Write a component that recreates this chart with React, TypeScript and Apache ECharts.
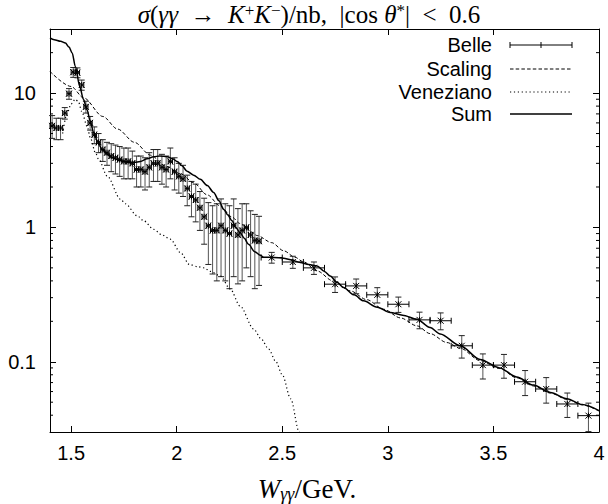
import React, { useEffect, useRef } from "react";
import * as echarts from "echarts";

// ---------- data ----------
const belleW = [
  1.41, 1.43, 1.45, 1.47, 1.49, 1.51, 1.53, 1.55, 1.57, 1.59,
  1.61, 1.63, 1.65, 1.67, 1.69, 1.71, 1.73, 1.75, 1.77, 1.79,
  1.81, 1.83, 1.85, 1.87, 1.89, 1.91, 1.93, 1.95, 1.97, 1.99,
  2.01, 2.03, 2.05, 2.07, 2.09, 2.11, 2.13, 2.15, 2.17, 2.19,
  2.21, 2.23, 2.25, 2.27, 2.29, 2.31, 2.33, 2.35, 2.37, 2.39,
  2.45, 2.55, 2.65, 2.75, 2.85, 2.95, 3.05, 3.15, 3.25, 3.35,
  3.45, 3.55, 3.65, 3.75, 3.85, 3.95,
];
const belleSigma = [
  5.7, 5.5, 5.5, 7.1, 9.9, 14.3, 14.2, 11.5, 7.9, 6.0,
  4.9, 4.3, 3.8, 3.6, 3.4, 3.3, 3.2, 3.1, 3.1, 3.0,
  2.7, 2.7, 2.6, 2.8, 3.0, 3.0, 2.8, 2.7, 3.1, 2.6,
  2.4, 2.3, 1.95, 1.7, 1.6, 1.4, 1.2, 1.03, 0.95, 0.95,
  1.03, 0.95, 0.9, 1.03, 0.88, 0.95, 1.0, 0.88, 0.8, 0.79,
  0.597, 0.553, 0.5, 0.378, 0.367, 0.315, 0.268, 0.205, 0.202, 0.1315,
  0.0944, 0.0944, 0.071, 0.0627, 0.0485, 0.0397,
];
const belleErr = [
  1.1, 1.0, 1.0, 0.7, 0.9, 1.2, 1.2, 1.0, 0.8, 0.7,
  0.7, 0.7, 0.7, 0.7, 0.8, 0.8, 0.8, 0.8, 0.8, 0.7,
  0.7, 0.7, 0.7, 0.8, 0.8, 0.8, 0.7, 0.7, 0.8, 0.7,
  0.6, 0.6, 0.5, 0.5, 0.5, 0.45, 0.45, 0.5, 0.5, 0.55,
  0.6, 0.55, 0.55, 0.6, 0.5, 0.55, 0.5, 0.45, 0.45, 0.42,
  0.055, 0.057, 0.053, 0.05, 0.046, 0.041, 0.035, 0.029, 0.029, 0.025,
  0.02, 0.019, 0.015, 0.0135, 0.01, 0.0095,
];
const belleHalfBin = [
  0.01, 0.01, 0.01, 0.01, 0.01, 0.01, 0.01, 0.01, 0.01, 0.01,
  0.01, 0.01, 0.01, 0.01, 0.01, 0.01, 0.01, 0.01, 0.01, 0.01,
  0.01, 0.01, 0.01, 0.01, 0.01, 0.01, 0.01, 0.01, 0.01, 0.01,
  0.01, 0.01, 0.01, 0.01, 0.01, 0.01, 0.01, 0.01, 0.01, 0.01,
  0.01, 0.01, 0.01, 0.01, 0.01, 0.01, 0.01, 0.01, 0.01, 0.01,
  0.05, 0.05, 0.05, 0.05, 0.05, 0.05, 0.05, 0.05, 0.05, 0.05,
  0.05, 0.05, 0.05, 0.05, 0.05, 0.05,
];

const scalingW = [
  1.4, 1.5, 1.56, 1.65, 1.72, 1.8, 1.876, 1.95, 2.02, 2.08, 2.144, 2.207,
  2.26, 2.3, 2.349, 2.381, 2.45, 2.507, 2.56, 2.6, 2.665, 2.74, 2.822, 2.9,
  2.98, 3.06, 3.138, 3.2, 3.28, 3.343, 3.437, 3.53, 3.61, 3.69, 3.77, 3.848,
  3.92, 4.0,
];
const scalingSigma = [
  14.5, 11.2, 9.2, 6.7, 5.4, 4.3, 3.45, 2.85, 2.5, 2.15, 1.75, 1.44,
  1.2, 1.07, 0.93, 0.87, 0.77, 0.67, 0.6, 0.555, 0.474, 0.4, 0.337, 0.29,
  0.246, 0.212, 0.185, 0.162, 0.139, 0.126, 0.102, 0.089, 0.076, 0.066, 0.0585, 0.0525,
  0.0478, 0.043,
];

const venezianoW = [
  1.46, 1.48, 1.5, 1.52, 1.535, 1.55, 1.576, 1.592, 1.615, 1.631, 1.671,
  1.734, 1.757, 1.813, 1.844, 1.891, 1.93, 1.97, 2.018, 2.06, 2.1, 2.13,
  2.16, 2.207, 2.254, 2.3, 2.365, 2.4, 2.436, 2.47, 2.5, 2.54, 2.58, 2.6,
];
const venezianoSigma = [
  5.0, 7.0, 8.3, 9.0, 8.6, 7.3, 5.66, 4.6, 3.6, 3.2, 2.41,
  1.62, 1.5, 1.22, 1.12, 0.968, 0.88, 0.817, 0.65, 0.53, 0.51, 0.5,
  0.47, 0.435, 0.347, 0.26, 0.175, 0.148, 0.124, 0.1, 0.08, 0.053, 0.03, 0.025,
];

const sumW = [
  1.4, 1.42, 1.45, 1.473, 1.49, 1.505, 1.52, 1.541, 1.558, 1.576, 1.59,
  1.607, 1.625, 1.647, 1.67, 1.694, 1.73, 1.765, 1.8, 1.828, 1.86, 1.891,
  1.92, 1.955, 1.98, 2.002, 2.025, 2.049, 2.08, 2.112, 2.145, 2.175, 2.2,
  2.223, 2.242, 2.262, 2.28, 2.3, 2.32, 2.34, 2.37, 2.396, 2.412, 2.46,
  2.507, 2.54, 2.585, 2.625, 2.665, 2.7, 2.727, 2.76, 2.79, 2.84, 2.885,
  2.95, 3.011, 3.07, 3.138, 3.2, 3.248, 3.343, 3.437, 3.53, 3.61, 3.69,
  3.77, 3.848, 3.92, 4.0,
];
const sumSigma = [
  25.7, 25.0, 24.3, 23.6, 22.0, 19.9, 15.8, 11.2, 9.0, 7.5, 6.2,
  5.06, 4.4, 3.8, 3.5, 3.3, 3.15, 3.06, 3.05, 3.1, 3.25, 3.36,
  3.4, 3.36, 3.25, 3.1, 2.88, 2.62, 2.45, 2.28, 2.05, 1.82, 1.58,
  1.36, 1.24, 1.12, 1.0, 0.915, 0.83, 0.748, 0.66, 0.62, 0.6, 0.598,
  0.59, 0.575, 0.548, 0.53, 0.516, 0.47, 0.435, 0.39, 0.357, 0.315, 0.284,
  0.255, 0.233, 0.222, 0.207, 0.18, 0.161, 0.1315, 0.104, 0.09, 0.077, 0.067,
  0.059, 0.053, 0.048, 0.0433,
];

const yMinorTicks = [
  0.04, 0.05, 0.06, 0.07, 0.08, 0.09,
  0.2, 0.3, 0.4, 0.5, 0.6, 0.7, 0.8, 0.9,
  2, 3, 4, 5, 6, 7, 8, 9, 20,
];
const legendLabels = ["Belle", "Scaling", "Veneziano", "Sum"];

const X_MIN = 1.4;
const X_MAX = 4;
const Y_MIN = 0.03;
const Y_MAX = 30;

const SANS = "Liberation Sans";
const SERIF = "Liberation Serif";

function zip(xs: number[], ys: number[]) {
  return xs.map((x, i) => [x, ys[i]]);
}

export default function App() {
  const ref = useRef<HTMLDivElement>(null);

  useEffect(() => {
    if (!ref.current) return;
    const chart = echarts.init(ref.current, undefined, { renderer: "svg" });

    const line = (x1: number, y1: number, x2: number, y2: number, stroke = "#000") => ({
      type: "line",
      shape: { x1, y1, x2, y2 },
      style: { stroke, lineWidth: 1 },
    });

    const belleData = belleW.map((w, i) => [w, belleSigma[i], belleHalfBin[i], belleErr[i]]);

    const axisLineStyle = { color: "#000", width: 1 };

    const legendRowsY = [45, 69, 92, 114];
    const lx1 = 510;
    const lx2 = 572;
    const legendGraphics: any[] = [];
    legendLabels.forEach((lab, i) => {
      legendGraphics.push({
        type: "text",
        x: 492,
        y: legendRowsY[i],
        style: {
          text: lab,
          fontFamily: SANS,
          fontSize: 20,
          fill: "#000",
          align: "right",
          verticalAlign: "middle",
        },
      });
    });
    const by = legendRowsY[0];
    legendGraphics.push(line(lx1, by, lx2, by));
    legendGraphics.push(line(lx1, by - 3, lx1, by + 3));
    legendGraphics.push(line(lx2, by - 3, lx2, by + 3));
    legendGraphics.push(line((lx1 + lx2) / 2, by - 3, (lx1 + lx2) / 2, by + 3));
    legendGraphics.push({
      type: "line",
      shape: { x1: lx1, y1: legendRowsY[1], x2: lx2, y2: legendRowsY[1] },
      style: { stroke: "#000", lineWidth: 1, lineDash: [3.5, 2.2] },
    });
    legendGraphics.push({
      type: "line",
      shape: { x1: lx1, y1: legendRowsY[2], x2: lx2, y2: legendRowsY[2] },
      style: { stroke: "#000", lineWidth: 1.2, lineDash: [1.2, 2.7] },
    });
    legendGraphics.push({
      type: "line",
      shape: { x1: lx1, y1: legendRowsY[3], x2: lx2, y2: legendRowsY[3] },
      style: { stroke: "#000", lineWidth: 1.5 },
    });

    const titleRich = {
      n: { fontFamily: SERIF, fontSize: 25, fill: "#000", lineHeight: 24 },
      i: { fontFamily: SERIF, fontSize: 25, fontStyle: "italic", fill: "#000", lineHeight: 24 },
      sup: { fontFamily: SERIF, fontSize: 17, fill: "#000", lineHeight: 16, verticalAlign: "top" },
    };
    const nameRich = {
      n: { fontFamily: SERIF, fontSize: 27, fill: "#000", lineHeight: 28 },
      i: { fontFamily: SERIF, fontSize: 27, fontStyle: "italic", fill: "#000", lineHeight: 28 },
      sub: { fontFamily: SERIF, fontSize: 18, fontStyle: "italic", fill: "#000", lineHeight: 16, verticalAlign: "bottom" },
    };

    const option: any = {
      animation: false,
      backgroundColor: "#fff",
      grid: { left: 50, right: 9, top: 29, bottom: 72, containLabel: false },
      xAxis: [
        {
          type: "value",
          min: X_MIN,
          max: X_MAX,
          splitLine: { show: false },
          axisLine: { show: true, lineStyle: axisLineStyle },
          axisTick: { show: true, inside: true, length: 6, lineStyle: { color: "#000" } },
          axisLabel: {
            show: true,
            margin: 11,
            fontFamily: SANS,
            fontSize: 20,
            color: "#000",
            formatter: (v: number) =>
              Math.abs(v * 2 - Math.round(v * 2)) < 1e-6 ? String(+v.toFixed(1)) : "",
          },
        },
        {
          type: "value",
          position: "top",
          min: X_MIN,
          max: X_MAX,
          splitLine: { show: false },
          axisLine: { show: true, lineStyle: axisLineStyle },
          axisTick: { show: true, inside: true, length: 6, lineStyle: { color: "#000" } },
          axisLabel: { show: false },
        },
      ],
      yAxis: [
        {
          type: "log",
          logBase: 10,
          min: Y_MIN,
          max: Y_MAX,
          splitLine: { show: false },
          axisLine: { show: true, lineStyle: axisLineStyle },
          axisTick: { show: true, inside: true, length: 6, lineStyle: { color: "#000" } },
          minorTick: { show: false },
          axisLabel: {
            show: true,
            margin: 14,
            fontFamily: SANS,
            fontSize: 20,
            color: "#000",
            formatter: (v: number) => {
              const l = Math.log10(v);
              return Math.abs(l - Math.round(l)) < 1e-6 ? String(+v.toPrecision(3)) : "";
            },
          },
        },
        {
          type: "log",
          logBase: 10,
          position: "right",
          min: Y_MIN,
          max: Y_MAX,
          splitLine: { show: false },
          axisLine: { show: true, lineStyle: axisLineStyle },
          axisTick: { show: true, inside: true, length: 6, lineStyle: { color: "#000" } },
          axisLabel: { show: false },
        },
      ],
      graphic: [
        {
          type: "text",
          x: 309,
          y: 14,
          style: {
            text:
              "{i|σ}{n|(}{i|γγ}{n|  →  }{i|K}{sup|+}{i|K}{sup|−}{n|)/nb,  |cos }{i|θ}{sup|*}{n||  <  0.6}",
            align: "center",
            verticalAlign: "middle",
            rich: titleRich,
          },
        },
        {
          type: "text",
          x: 307,
          y: 489,
          style: {
            text: "{i|W}{sub|γγ}{n|/GeV.}",
            align: "center",
            verticalAlign: "middle",
            rich: nameRich,
          },
        },
        ...legendGraphics,
      ],
      series: [
        {
          name: "Belle",
          type: "custom",
          xAxisIndex: 0,
          yAxisIndex: 0,
          data: belleData,
          z: 2,
          renderItem: (params: any, api: any) => {
            const w = api.value(0);
            const v = api.value(1);
            const hw = api.value(2);
            const e = api.value(3);
            const cs = params.coordSys;
            const top = cs.y;
            const bot = cs.y + cs.height;
            const c = api.coord([w, v]);
            const xl = api.coord([w - hw, v])[0];
            const xr = Math.min(api.coord([w + hw, v])[0], cs.x + cs.width);
            const yb = v - e > 0 ? api.coord([w, v - e])[1] : bot + 10;
            const yt = api.coord([w, v + e])[1];
            const children: any[] = [];
            const ybC = Math.min(yb, bot);
            const ytC = Math.max(yt, top);
            children.push(line(c[0], ytC, c[0], ybC, "#555"));
            if (yt >= top) children.push(line(c[0] - 3, yt, c[0] + 3, yt, "#222"));
            if (yb <= bot) children.push(line(c[0] - 3, yb, c[0] + 3, yb, "#222"));
            children.push(line(xl, c[1], xr, c[1], "#000"));
            children.push(line(xl, c[1] - 3, xl, c[1] + 3, "#000"));
            if (xr < cs.x + cs.width - 0.5) children.push(line(xr, c[1] - 3, xr, c[1] + 3, "#000"));
            const m = 3;
            children.push(line(c[0] - m, c[1] - m, c[0] + m, c[1] + m, "#000"));
            children.push(line(c[0] - m, c[1] + m, c[0] + m, c[1] - m, "#000"));
            children.push(line(c[0], c[1] - m, c[0], c[1] + m, "#000"));
            return { type: "group", children };
          },
        },
        {
          name: "Scaling",
          type: "line",
          data: zip(scalingW, scalingSigma),
          showSymbol: false,
          smooth: 0.3,
          smoothMonotone: "x",
          lineStyle: { color: "#000", width: 1, type: [3.5, 2.2] },
          z: 3,
        },
        {
          name: "Veneziano",
          type: "line",
          data: zip(venezianoW, venezianoSigma),
          showSymbol: false,
          smooth: 0.3,
          smoothMonotone: "x",
          lineStyle: { color: "#000", width: 1.2, type: [1.2, 2.7] },
          z: 3,
        },
        {
          name: "Sum",
          type: "line",
          data: zip(sumW, sumSigma),
          showSymbol: false,
          smooth: 0.3,
          smoothMonotone: "x",
          lineStyle: { color: "#000", width: 1.5 },
          z: 4,
        },
        {
          name: "minorTicks",
          type: "custom",
          xAxisIndex: 0,
          yAxisIndex: 0,
          data: yMinorTicks.map((v) => [X_MIN, v]),
          z: 5,
          silent: true,
          renderItem: (params: any, api: any) => {
            const cs = params.coordSys;
            const y = api.coord([api.value(0), api.value(1)])[1];
            return {
              type: "group",
              children: [
                line(cs.x, y, cs.x + 3, y),
                line(cs.x + cs.width - 3, y, cs.x + cs.width, y),
              ],
            };
          },
        },
      ],
    };

    chart.setOption(option);
    return () => chart.dispose();
  }, []);

  return (
    <div
      ref={ref}
      style={{ position: "fixed", left: 0, top: 0, width: 608, height: 504, background: "#fff" }}
    />
  );
}
